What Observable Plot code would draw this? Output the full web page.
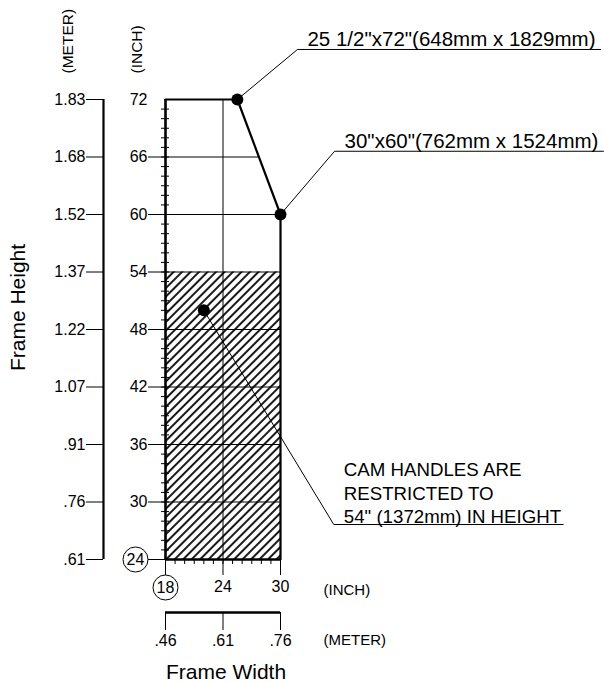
<!DOCTYPE html>
<html><head><meta charset="utf-8">
<script src="https://cdn.jsdelivr.net/npm/d3@7"></script>
<script src="https://cdn.jsdelivr.net/npm/@observablehq/plot@0.6"></script>
<style>body{margin:0;background:#fff}</style>
</head><body><div id="chart"></div>
<script>
// ---- data ----
const inchTicksY = [24, 30, 36, 42, 48, 54, 60, 66, 72];
const meterLabelsY = [".61", ".76", ".91", "1.07", "1.22", "1.37", "1.52", "1.68", "1.83"];
const inchTicksX = [18, 24, 30];
const meterLabelsX = [".46", ".61", ".76"];
const outline = [{x: 18, y: 72}, {x: 25.5, y: 72}, {x: 30, y: 60}, {x: 30, y: 24}];
const sizePoints = [{x: 25.5, y: 72}, {x: 30, y: 60}, {x: 22, y: 50}];
const sizeLabels = [
  '25 1/2"x72"(648mm x 1829mm)',
  '30"x60"(762mm x 1524mm)',
  'CAM HANDLES ARE\nRESTRICTED TO\n54" (1372mm) IN HEIGHT'
];
const restrictedHeight = 54;

// ---- layout (annotation leaders, in inch units) ----
const leaderLayout = [
  {ex: 31.77, ey: 77.22, endX: 63.4, dy: -11.5, size: 20.5},
  {ex: 35.64, ey: 66.6, endX: 63.7, dy: -11.7, size: 20.5},
  {ex: 35.56, ey: 27.65, endX: 59.5, dy: -32.3, size: 18.7}
];

const meterY = new Map(inchTicksY.map((d, i) => [d, meterLabelsY[i]]));
const meterX = new Map(inchTicksX.map((d, i) => [d, meterLabelsX[i]]));
const xMin = outline[0].x, xMax = d3.max(outline, d => d.x);
const yMin = d3.min(inchTicksY), yMax = d3.max(inchTicksY);

function boundaryX(y) {
  for (let i = 1; i < outline.length; i++) {
    const a = outline[i - 1], b = outline[i];
    if (a.y === b.y) continue;
    const lo = Math.min(a.y, b.y), hi = Math.max(a.y, b.y);
    if (y >= lo && y <= hi) return a.x + (y - a.y) * (b.x - a.x) / (b.y - a.y);
  }
  return xMax;
}
const gridY = inchTicksY.filter(d => d > yMin && d < yMax).map(y => ({y, x1: xMin, x2: boundaryX(y)}));
const restricted = [{x1: xMin, x2: xMax, y1: yMin, y2: restrictedHeight}];

const leaders = [];
sizePoints.forEach((p, i) => {
  const L = leaderLayout[i];
  leaders.push({id: i, x: p.x, y: p.y}, {id: i, x: L.ex, y: L.ey}, {id: i, x: L.endX, y: L.ey});
});

const font = "'Liberation Sans', Arial, sans-serif";
const tickFont = 16;

const marks = [
  // hatched restricted area
  Plot.rect(restricted, {x1: "x1", x2: "x2", y1: "y1", y2: "y2", fill: "url(#hatch)"}),
  // grid
  Plot.ruleY(gridY, {y: "y", x1: "x1", x2: "x2", stroke: "black", strokeWidth: 1}),
  Plot.ruleX([24], {y1: yMin, y2: yMax, stroke: "black", strokeWidth: 1}),
  // inch y axis: labels, major ticks, minor ticks
  Plot.axisY(inchTicksY.filter(d => d !== yMin), {anchor: "left", tickSize: 0, tickPadding: 18, fontSize: tickFont, label: null}),
  Plot.axisY(inchTicksY.filter(d => d !== yMax), {anchor: "left", tickSize: 17, tickFormat: () => "", label: null}),
  Plot.axisY(d3.range(yMin + 1, yMax), {anchor: "left", tickSize: 8, dx: 4, tickFormat: () => "", label: null}),
  // meter y axis
  Plot.ruleX([xMin], {y1: yMin, y2: yMax, dx: -62, stroke: "black", strokeWidth: 2.2}),
  Plot.axisY(inchTicksY, {anchor: "left", dx: -62, tickSize: 17, tickPadding: 1, tickFormat: d => meterY.get(d), fontSize: tickFont, label: null}),
  // inch x axis
  Plot.axisX(inchTicksX, {anchor: "bottom", tickSize: 16, tickPadding: 5, tickFormat: d => d === xMin ? "" : String(d), fontSize: tickFont, label: null}),
  Plot.axisX(d3.range(xMin + 1, xMax), {anchor: "bottom", tickSize: 5, tickFormat: () => "", label: null}),
  // meter x axis
  Plot.ruleY([yMin], {x1: xMin, x2: xMax, dy: 53, stroke: "black", strokeWidth: 2.5}),
  Plot.axisX(inchTicksX, {anchor: "bottom", dy: 53, tickSize: 18, tickPadding: 4, tickFormat: d => meterX.get(d), fontSize: tickFont, label: null}),
  // circled origin labels
  Plot.dot([{x: xMin, y: yMin}], {x: "x", y: "y", dy: 28, r: 12.5, fill: "white", stroke: "black", strokeWidth: 1}),
  Plot.text([{x: xMin, y: yMin}], {x: "x", y: "y", dy: 28, text: d => String(d.x), fontSize: tickFont, fill: "black"}),
  Plot.dot([{x: xMin, y: yMin}], {x: "x", y: "y", dx: -30, r: 12.5, fill: "white", stroke: "black", strokeWidth: 1}),
  Plot.text([{x: xMin, y: yMin}], {x: "x", y: "y", dx: -30, text: d => String(d.y), fontSize: tickFont, fill: "black"}),
  // frame outline
  Plot.ruleX([xMin], {y1: yMin, y2: yMax, stroke: "black", strokeWidth: 2.6}),
  Plot.ruleY([yMin], {x1: xMin, x2: xMax, stroke: "black", strokeWidth: 2.6}),
  Plot.line(outline, {x: "x", y: "y", stroke: "black", strokeWidth: 2.2}),
  // leaders
  Plot.line(leaders, {x: "x", y: "y", z: "id", stroke: "black", strokeWidth: 1}),
  Plot.dot(sizePoints, {x: "x", y: "y", r: 6, fill: "black"}),
  // unit labels
  Plot.text(["(METER)"], {x: xMin, y: yMax, dx: -97, dy: -26, rotate: -90, textAnchor: "start", fontSize: 15.5, fill: "black", text: d => d}),
  Plot.text(["(INCH)"], {x: xMin, y: yMax, dx: -28, dy: -26, rotate: -90, textAnchor: "start", fontSize: 15.5, fill: "black", text: d => d}),
  Plot.text(["(INCH)"], {x: xMax, y: yMin, dx: 43, dy: 31, textAnchor: "start", fontSize: 15, fill: "black", text: d => d}),
  Plot.text(["(METER)"], {x: xMax, y: yMin, dx: 43, dy: 81, textAnchor: "start", fontSize: 15, fill: "black", text: d => d}),
  // titles
  Plot.text(["Frame Width"], {x: 24, y: yMin, dx: 3, dy: 113, fontSize: 21, fill: "black", text: d => d}),
  Plot.text(["Frame Height"], {x: xMin, y: 48, dx: -147, dy: -22, rotate: -90, fontSize: 21, fill: "black", text: d => d})
];

sizeLabels.forEach((t, i) => {
  const L = leaderLayout[i];
  marks.push(Plot.text([t], {x: L.ex, y: L.ey, dx: 10, dy: L.dy, textAnchor: "start", lineAnchor: "middle", lineHeight: 1.25, fontSize: L.size, fill: "black", text: d => d}));
});

const chart = Plot.plot({
  width: 604,
  height: 682,
  marginLeft: 165,
  marginRight: 324,
  marginTop: 99,
  marginBottom: 123,
  x: {domain: [xMin, xMax], axis: null, label: null},
  y: {domain: [yMin, yMax], axis: null, label: null},
  style: {fontFamily: font, fontSize: "15px", color: "black", background: "white"},
  marks
});

// make sure tick labels use the intended size
d3.select(chart).selectAll('g[aria-label$="tick label"]').attr("font-size", tickFont).attr("font-variant", null);

const defs = d3.select(chart).insert("defs", ":first-child");
const pat = defs.append("pattern").attr("id", "hatch").attr("patternUnits", "userSpaceOnUse")
  .attr("width", 6).attr("height", 6).attr("patternTransform", "rotate(45)");
pat.append("line").attr("x1", 3).attr("y1", -1).attr("x2", 3).attr("y2", 7)
  .attr("stroke", "black").attr("stroke-width", 1.8);

document.getElementById("chart").appendChild(chart);
</script>
</body></html>
